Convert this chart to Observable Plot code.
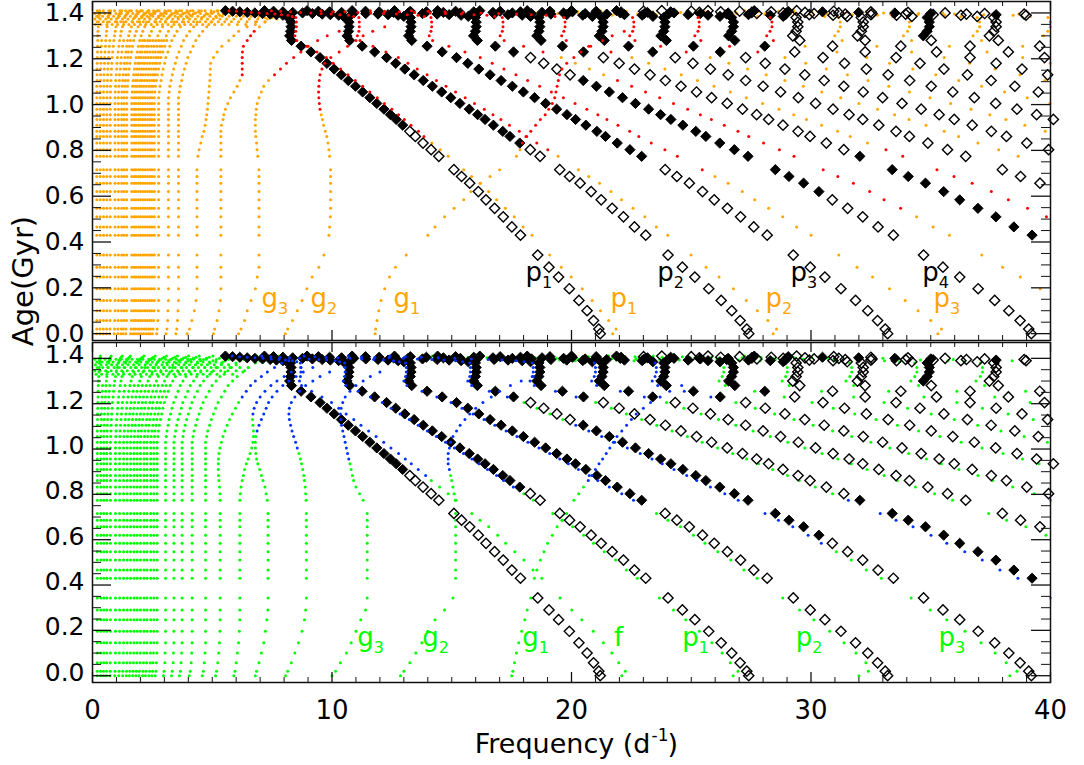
<!DOCTYPE html>
<html><head><meta charset="utf-8">
<script src="https://cdn.jsdelivr.net/npm/d3@7"></script>
<script src="https://cdn.jsdelivr.net/npm/@observablehq/plot@0.6"></script>
<style>
body{margin:0;background:#fff;}
#wrap{position:relative;width:1084px;height:765px;overflow:hidden;}
#wrap svg{display:block;}
#ytitle{position:absolute;left:23px;top:281px;transform:translate(-50%,-50%) rotate(-90deg);font-family:"DejaVu Sans";font-size:29px;white-space:nowrap;color:#000;z-index:5;}
</style></head>
<body><div id="wrap"><div id="ytitle">Age(Gyr)</div></div>
<script>
// ---------- model ages (Gyr), shared by every track ----------
const ages = [0,0.02,0.057,0.1,0.145,0.196,0.247,0.29,0.343,0.43,0.466,0.51,0.547,0.584,0.62,0.657,0.686,0.716,0.774,0.803,0.832,0.861,0.883,0.91,0.935,0.956,0.98,1.005,1.03,1.055,1.08,1.105,1.13,1.155,1.18,1.205,1.23,1.255,1.28,1.3,1.32,1.34,1.36,1.38,1.39,1.395,1.4,1.405,1.41];
// extra finely sampled models in the post-main-sequence band
const tailAges = [1.385,1.3925,1.3975,1.4025,1.4075];

// ---------- radial modes (l=0), black diamonds, both panels ----------
const l0n1 = [21.2,21.14,20.92,20.65,20.31,19.91,19.46,19.06,18.59,17.87,17.51,17.15,16.79,16.43,16.11,15.75,15.41,15.09,14.46,14.14,13.8,13.48,13.25,12.95,12.68,12.44,12.17,11.87,11.58,11.28,10.98,10.68,10.39,10.09,9.79,9.5,9.12,8.71,8.31,8.23,8.27,8.29,8.29,8.27,7.95,7.42,6.78,6.15,5.55];
const l0n2 = [27.4,27.32,27.04,26.69,26.25,25.73,25.15,24.63,24.03,23.1,22.63,22.17,21.7,21.24,20.82,20.36,19.92,19.51,18.69,18.28,17.84,17.43,17.13,16.74,16.39,16.08,15.73,15.34,14.96,14.58,14.19,13.81,13.43,13.04,12.66,12.28,11.78,11.26,10.74,10.63,10.69,10.71,10.71,10.69,10.28,9.59,8.77,7.95,7.18];
const l0n3 = [33.2,33.1,32.78,32.37,31.86,31.25,30.58,29.97,29.26,28.17,27.61,27.06,26.51,25.96,25.47,24.92,24.4,23.91,22.93,22.44,21.91,21.42,21.06,20.6,20.17,19.81,19.38,18.92,18.46,17.99,17.53,17.06,16.6,16.13,15.67,15.2,14.6,13.97,13.33,13.2,13.27,13.3,13.3,13.27,12.76,11.92,10.91,9.9,8.96];
const l0n4 = [39.2,39.09,38.73,38.26,37.67,36.98,36.21,35.51,34.7,33.44,32.8,32.16,31.53,30.89,30.33,29.69,29.08,28.51,27.37,26.8,26.19,25.61,25.19,24.65,24.15,23.72,23.22,22.67,22.13,21.58,21.04,20.49,19.94,19.39,18.84,18.29,17.58,16.82,16.07,15.91,15.99,16.02,16.02,15.99,15.39,14.39,13.18,11.97,10.84];
const l0n5 = [39.23,38.47,37.72,36.97,36.21,35.54,34.78,34.06,33.39,32.04,31.37,30.64,29.96,29.46,28.83,28.23,27.73,27.14,26.5,25.85,25.22,24.57,23.92,23.28,22.63,21.99,21.33,20.5,19.62,18.73,18.55,18.64,18.68,18.68,18.64,17.94,16.77,15.36,13.94,12.61];
const l0n6 = [39.56,38.75,37.99,36.46,35.7,34.88,34.11,33.55,32.83,32.16,31.59,30.92,30.19,29.47,28.73,28.0,27.27,26.54,25.8,25.07,24.33,23.39,22.38,21.37,21.16,21.27,21.32,21.32,21.27,20.47,19.14,17.53,15.92,14.41];
const l0n7 = [39.92,39.01,38.16,37.53,36.73,35.98,35.35,34.6,33.8,32.99,32.18,31.37,30.55,29.74,28.91,28.09,27.27,26.21,25.09,23.96,23.73,23.85,23.9,23.9,23.85,22.95,21.47,19.67,17.87,16.17];
const l0n8 = [40.12,39.42,38.6,37.71,36.82,35.92,35.02,34.12,33.22,32.31,31.4,30.5,29.32,28.07,26.82,26.56,26.69,26.76,26.76,26.69,25.7,24.05,22.04,20.04,18.15];
const l0n9 = [39.49,38.51,37.52,36.53,35.55,34.55,33.55,32.26,30.9,29.53,29.24,29.38,29.45,29.45,29.38,28.3,26.48,24.28,22.07,20.0];
const l0n10 = [39.88,38.81,37.73,36.64,35.24,33.75,32.26,31.94,32.1,32.18,32.18,32.1,30.92,28.94,26.54,24.14,21.88];
const l0n11 = [39.75,38.24,36.64,35.02,34.69,34.85,34.94,34.94,34.85,33.57,31.43,28.84,26.23,23.77];
const l0n12 = [39.55,37.82,37.45,37.63,37.73,37.73,37.63,36.26,33.95,31.16,28.34,25.7];
const l0n13 = [38.98,36.49,33.5,30.48,27.63];
const l0n14 = [38.9,35.6,32.5,29.4];
const radialStart = [0,0,0,0,9,15,19,24,29,32,35,37,44,45];
const radialUnstable = [[[23,48]],[[20,48]],[[18,48]],[[14,31],[36,48]],[[9,18],[36,48]],[[36,48]],[[36,48]],[[37,48]],[[44,48]],[[46,48]],[[39,43]],[],[[46,48]],[]];
// radial modes at the extra band models (tailAges)
const l0t1 = [8.12,7.68,7.1,6.46,5.85];
const l0t2 = [10.48,9.93,9.18,8.36,7.56];
const l0t3 = [13.0,12.34,11.41,10.4,9.43];
const l0t4 = [15.69,14.89,13.78,12.57,11.4];
const l0t5 = [18.29,17.35,16.06,14.65,13.27];
const l0t6 = [20.87,19.8,18.33,16.72,15.16];
const l0t7 = [23.4,22.21,20.57,18.77,17.02];
const l0t8 = [26.2,24.87,23.04,21.04,19.1];
const l0t9 = [28.84,27.39,25.38,23.17,21.03];
const l0t10 = [31.51,29.93,27.74,25.34,23.01];
const l0t11 = [34.21,32.5,30.13,27.53,25.0];
const l0t12 = [36.94,35.1,32.55,29.75,27.02];
const l0t13 = [null,37.73,35.0,31.99,29.05];
const l0t14 = [null,null,37.25,34.05,30.95];
const l0tUnstable = [true,true,true,true,true,true,true,true,true,false,false,false,true,false];

// ---------- top panel: l=1 modes (orange = stable, red = unstable) ----------
const l1p1 = [21.72,21.86,21.55,21.21,20.86,20.45,19.99,19.57,19.09,18.35,17.98,17.61,17.24,16.87,16.54,16.18,15.83,15.5,14.85,14.52,14.17,13.84,13.61,13.3,13.02,12.78,12.5,12.19,11.89,11.58,11.28,10.97,10.67,10.36,10.05,9.76,9.37,8.95,8.53,8.45,8.49,8.51,8.51,8.49,8.16,7.62,6.96,6.32,5.7];
const l1p2 = [28.42,28.56,28.2,27.76,27.3,26.76,26.16,25.62,24.99,24.02,23.54,23.06,22.57,22.09,21.65,21.17,20.72,20.29,19.44,19.01,18.55,18.13,17.82,17.41,17.05,16.72,16.36,15.95,15.56,15.16,14.76,14.36,13.97,13.56,13.17,12.77,12.25,11.71,11.17,11.06,11.12,11.14,11.14,11.12,10.69,9.97,9.12,8.27,7.47];
const l1p3 = [35.3,35.45,35.0,34.47,33.93,33.28,32.57,31.92,31.16,30.0,29.4,28.82,28.23,27.65,27.13,26.54,25.99,25.46,24.42,23.9,23.33,22.81,22.43,21.94,21.48,21.1,20.64,20.15,19.66,19.16,18.67,18.17,17.68,17.18,16.69,16.19,15.55,14.88,14.2,14.06,14.13,14.16,14.16,14.13,13.59,12.69,11.62,10.54,9.54];
const l1p4 = [39.57,38.74,38.0,37.13,35.78,35.1,34.41,33.74,33.05,32.45,31.77,31.12,30.51,29.29,28.68,28.02,27.4,26.95,26.38,25.84,25.38,24.85,24.26,23.68,23.09,22.51,21.92,21.34,20.75,20.16,19.57,18.81,18.0,17.19,17.02,17.11,17.14,17.14,17.11,16.47,15.4,14.1,12.81,11.6];
const l1p5 = [39.83,39.04,38.24,37.53,36.73,35.97,35.26,33.83,33.13,32.36,31.64,31.11,30.44,29.81,29.28,28.66,27.98,27.3,26.63,25.95,25.26,24.58,23.9,23.22,22.52,21.65,20.72,19.78,19.59,19.68,19.73,19.73,19.68,18.94,17.71,16.22,14.72,13.32];
const l1p6 = [38.65,37.84,36.97,36.16,35.56,34.8,34.09,33.49,32.78,32.0,31.24,30.45,29.68,28.91,28.13,27.35,26.57,25.79,24.79,23.72,22.65,22.43,22.55,22.6,22.6,22.55,21.7,20.29,18.58,16.88,15.27];
const l1p7 = [39.78,38.93,38.14,37.47,36.68,35.83,34.97,34.11,33.25,32.38,31.52,30.64,29.78,28.91,27.78,26.6,25.4,25.15,25.28,25.33,25.33,25.28,24.33,22.76,20.85,18.94,17.14];
const l1p8 = [39.97,39.03,38.08,37.12,36.17,35.21,34.25,33.28,32.33,31.08,29.75,28.43,28.15,28.29,28.37,28.37,28.29,27.24,25.49,23.36,21.24,19.24];
const l1p9 = [39.77,38.72,37.68,36.62,35.56,34.2,32.75,31.3,30.99,31.14,31.22,31.22,31.14,30.0,28.07,25.74,23.39,21.2];
const l1p10 = [39.99,38.84,37.35,35.78,34.2,33.86,34.03,34.11,34.11,34.03,32.78,30.68,28.13,25.59,23.19];
const l1p11 = [38.84,37.12,36.77,36.94,37.04,37.04,36.94,35.58,33.32,30.57,27.8,25.2];
const l1p12 = [39.7,39.89,39.99,39.99,39.89,38.44,35.99,33.03,30.04,27.24];
const l1p13 = [38.68,35.51,32.31,29.29];
const l1g1 = [11.8,11.82,11.88,11.95,12.05,12.2,12.4,12.65,13.1,14.0,14.3,14.7,15.1,15.5,15.8,16.2,16.6,17.0,17.7,17.85,17.95,18.1,18.3,18.5,18.7,18.9,19.05,19.2,19.3,19.35,19.4,19.45,19.5,19.6,19.8,20.1,20.4,20.8,21.3,21.7,22.2];
const l1g2 = [8.05,8.15,8.35,8.55,8.75,8.95,9.17,9.45,9.66,9.87,9.9,9.93,9.94,9.94,9.94,9.94,9.94,9.94,9.9,9.87,9.83,9.78,9.72,9.65,9.6,9.55,9.5,9.47,9.45,9.44,9.45,9.47,9.5,9.58,9.7,9.95,10.3,10.65,11.0,11.3,11.7,12.2];
const l1g3 = [6.1,6.2,6.35,6.46,6.62,6.8,6.88,6.95,6.95,6.95,6.95,6.95,6.95,6.95,6.95,6.95,6.95,6.95,6.9,6.87,6.85,6.82,6.8,6.8,6.8,6.82,6.84,6.88,6.95,7.05,7.15,7.35,7.6,7.85,8.1,8.4,8.7,9.0,9.4,9.8,10.3];
const l1g4 = [5.05,5.1,5.2,5.28,5.34,5.36,5.36,5.36,5.36,5.36,5.36,5.36,5.36,5.36,5.36,5.36,5.36,5.36,5.36,5.36,5.36,5.36,5.36,5.38,5.45,5.48,5.55,5.65,5.76,5.9,6.04,6.15,6.25,6.25,6.25,6.25,6.26,6.3,6.46,6.6,6.75,6.97,7.2,7.5,7.7,7.9,8.1];
const l1g5 = [3.95,4.05,4.15,4.25,4.32,4.36,4.36,4.36,4.36,4.36,4.36,4.36,4.36,4.36,4.36,4.36,4.36,4.36,4.4,4.45,4.52,4.58,4.65,4.7,4.74,4.77,4.8,4.82,4.84,4.86,4.88,4.9,4.91,4.92,4.93,5.05,5.2,5.4,5.69,5.9,6.1,6.45,6.8,7.2,7.5,7.8];
const l1Start = [0,0,0,5,11,18,22,27,31,34,37,39,45, 0,0,0,0,0];
const l1Unstable = [[[21,48]],[[19,48]],[[17,48]],[[12,31],[36,48]],[[11,19],[36,48]],[[36,43]],[[36,43]],[[38,43]],[],[],[],[],[], [[20,40]],[[26,41]],[[32,40]],[[32,40]],[]];
const l1t1 = [8.34,7.89,7.29,6.63,6.01];
const l1t2 = [10.9,10.33,9.55,8.69,7.86];
const l1t3 = [13.85,13.14,12.15,11.08,10.04];
const l1t4 = [16.79,15.93,14.74,13.45,12.2];
const l1t5 = [19.31,18.32,16.96,15.47,14.01];
const l1t6 = [22.12,20.99,19.43,17.72,16.07];
const l1t7 = [24.8,23.54,21.8,19.9,18.04];
const l1t8 = [27.77,26.36,24.42,22.3,20.25];
const l1t9 = [30.57,29.03,26.9,24.56,22.29];
const l1t10 = [33.4,31.73,29.4,26.86,24.39];
const l1t11 = [36.26,34.45,31.94,29.18,26.5];
const l1t12 = [39.16,37.21,34.5,31.54,28.64];
const l1tUnstable = [true,true,true,true,true,false,false,false,false,false,false,false];
// dense low-order g modes, top panel
const l1lo1 = [3.48,3.52,3.55,3.57,3.59,3.59,3.59,3.59,3.59,3.59,3.59,3.59,3.59,3.59,3.59,3.59,3.59,3.59,3.59,3.59,3.59,3.59,3.59,3.59,3.59,3.59,3.59,3.59,3.59,3.63,3.66,3.72,3.77,3.84,3.91,3.98,4.09,4.2,4.31,4.45,4.6,4.77,4.95,5.17,5.31,5.46,5.6,5.74,5.92];
const l1lo2 = [3.07,3.11,3.14,3.15,3.17,3.17,3.17,3.17,3.17,3.17,3.17,3.17,3.17,3.17,3.17,3.17,3.17,3.17,3.17,3.17,3.17,3.17,3.17,3.17,3.17,3.17,3.17,3.17,3.17,3.2,3.23,3.28,3.33,3.39,3.46,3.52,3.61,3.71,3.8,3.93,4.06,4.22,4.37,4.56,4.69,4.82,4.95,5.07,5.23];
const l1lo3 = [2.68,2.7,2.73,2.75,2.76,2.76,2.76,2.76,2.76,2.76,2.76,2.76,2.76,2.76,2.76,2.76,2.76,2.76,2.76,2.76,2.76,2.76,2.76,2.76,2.76,2.76,2.76,2.76,2.76,2.79,2.82,2.86,2.9,2.95,3.01,3.06,3.15,3.23,3.31,3.42,3.53,3.67,3.81,3.97,4.08,4.2,4.31,4.42,4.55];
const l1lo4 = [2.41,2.43,2.46,2.47,2.48,2.48,2.48,2.48,2.48,2.48,2.48,2.48,2.48,2.48,2.48,2.48,2.48,2.48,2.48,2.48,2.48,2.48,2.48,2.48,2.48,2.48,2.48,2.48,2.48,2.5,2.53,2.57,2.6,2.65,2.7,2.75,2.83,2.9,2.98,3.08,3.17,3.3,3.42,3.57,3.67,3.77,3.87,3.97,4.09];
const l1lo5 = [2.13,2.16,2.18,2.19,2.2,2.2,2.2,2.2,2.2,2.2,2.2,2.2,2.2,2.2,2.2,2.2,2.2,2.2,2.2,2.2,2.2,2.2,2.2,2.2,2.2,2.2,2.2,2.2,2.2,2.22,2.24,2.28,2.31,2.35,2.4,2.44,2.51,2.57,2.64,2.73,2.82,2.93,3.04,3.17,3.26,3.34,3.43,3.52,3.63];
const l1lo6 = [1.86,1.88,1.9,1.91,1.92,1.92,1.92,1.92,1.92,1.92,1.92,1.92,1.92,1.92,1.92,1.92,1.92,1.92,1.92,1.92,1.92,1.92,1.92,1.92,1.92,1.92,1.92,1.92,1.92,1.94,1.96,1.99,2.02,2.05,2.09,2.13,2.19,2.25,2.3,2.38,2.46,2.55,2.65,2.76,2.84,2.92,3.0,3.07,3.17];
const l1lo7 = [1.59,1.61,1.62,1.63,1.64,1.64,1.64,1.64,1.64,1.64,1.64,1.64,1.64,1.64,1.64,1.64,1.64,1.64,1.64,1.64,1.64,1.64,1.64,1.64,1.64,1.64,1.64,1.64,1.64,1.66,1.67,1.7,1.72,1.75,1.79,1.82,1.87,1.92,1.97,2.03,2.1,2.18,2.26,2.36,2.43,2.49,2.56,2.62,2.71];
const l1lo8 = [1.39,1.4,1.42,1.42,1.43,1.43,1.43,1.43,1.43,1.43,1.43,1.43,1.43,1.43,1.43,1.43,1.43,1.43,1.43,1.43,1.43,1.43,1.43,1.43,1.43,1.43,1.43,1.43,1.43,1.44,1.46,1.48,1.5,1.53,1.56,1.59,1.63,1.67,1.72,1.77,1.83,1.9,1.97,2.06,2.12,2.17,2.23,2.29,2.36];
const l1lo9 = [1.18,1.2,1.21,1.21,1.22,1.22,1.22,1.22,1.22,1.22,1.22,1.22,1.22,1.22,1.22,1.22,1.22,1.22,1.22,1.22,1.22,1.22,1.22,1.22,1.22,1.22,1.22,1.22,1.22,1.23,1.24,1.26,1.28,1.31,1.33,1.35,1.39,1.43,1.46,1.51,1.56,1.62,1.68,1.76,1.81,1.85,1.9,1.95,2.01];
const l1lo10 = [0.91,0.92,0.93,0.94,0.94,0.94,0.94,0.94,0.94,0.94,0.94,0.94,0.94,0.94,0.94,0.94,0.94,0.94,0.94,0.94,0.94,0.94,0.94,0.94,0.94,0.94,0.94,0.94,0.94,0.95,0.96,0.97,0.99,1.01,1.02,1.04,1.07,1.1,1.13,1.17,1.2,1.25,1.3,1.35,1.39,1.43,1.47,1.5,1.55];
const l1lo11 = [0.72,0.73,0.73,0.74,0.74,0.74,0.74,0.74,0.74,0.74,0.74,0.74,0.74,0.74,0.74,0.74,0.74,0.74,0.74,0.74,0.74,0.74,0.74,0.74,0.74,0.74,0.74,0.74,0.74,0.75,0.75,0.77,0.78,0.79,0.81,0.82,0.84,0.87,0.89,0.92,0.95,0.98,1.02,1.07,1.1,1.12,1.15,1.18,1.22];
const l1lo12 = [0.45,0.45,0.46,0.46,0.46,0.46,0.46,0.46,0.46,0.46,0.46,0.46,0.46,0.46,0.46,0.46,0.46,0.46,0.46,0.46,0.46,0.46,0.46,0.46,0.46,0.46,0.46,0.46,0.46,0.46,0.47,0.48,0.48,0.49,0.5,0.51,0.52,0.54,0.55,0.57,0.59,0.61,0.63,0.66,0.68,0.7,0.72,0.74,0.76];
const l1lo13 = [0.17,0.18,0.18,0.18,0.18,0.18,0.18,0.18,0.18,0.18,0.18,0.18,0.18,0.18,0.18,0.18,0.18,0.18,0.18,0.18,0.18,0.18,0.18,0.18,0.18,0.18,0.18,0.18,0.18,0.18,0.18,0.19,0.19,0.19,0.2,0.2,0.21,0.21,0.22,0.22,0.23,0.24,0.25,0.26,0.27,0.27,0.28,0.29,0.3];
const l1lo14 = [2.5,2.53,2.55,2.57,2.58,2.58,2.58,2.58,2.58,2.58,2.58,2.58,2.58,2.58,2.58,2.58,2.58,2.58,2.58,2.58,2.58,2.58,2.58,2.58,2.58,2.58,2.58,2.58,2.58,2.61,2.63,2.67,2.71,2.76,2.81,2.86,2.94,3.02,3.1];
const l1lo15 = [2.33,2.35,2.38,2.39,2.4,2.4,2.4,2.4,2.4,2.4,2.4,2.4,2.4,2.4,2.4,2.4,2.4,2.4,2.4,2.4,2.4,2.4,2.4,2.4,2.4,2.4,2.4,2.4,2.4,2.42,2.45,2.48,2.52,2.57,2.62,2.66,2.74,2.81,2.88];
const l1lo16 = [2.23,2.25,2.28,2.29,2.3,2.3,2.3,2.3,2.3,2.3,2.3,2.3,2.3,2.3,2.3,2.3,2.3,2.3,2.3,2.3,2.3,2.3,2.3,2.3,2.3,2.3,2.3,2.3,2.3,2.32,2.35,2.38,2.42,2.46,2.51,2.55,2.62,2.69,2.76];
const l1lo17 = [2.04,2.06,2.08,2.09,2.1,2.1,2.1,2.1,2.1,2.1,2.1,2.1,2.1,2.1,2.1,2.1,2.1,2.1,2.1,2.1,2.1,2.1,2.1,2.1,2.1,2.1,2.1,2.1,2.1,2.12,2.14,2.17,2.21,2.25,2.29,2.33,2.39,2.46,2.52];
const l1lo18 = [1.94,1.96,1.98,1.99,2.0,2.0,2.0,2.0,2.0,2.0,2.0,2.0,2.0,2.0,2.0,2.0,2.0,2.0,2.0,2.0,2.0,2.0,2.0,2.0,2.0,2.0,2.0,2.0,2.0,2.02,2.04,2.07,2.1,2.14,2.18,2.22,2.28,2.34,2.4];
const l1lo19 = [1.77,1.78,1.8,1.81,1.82,1.82,1.82,1.82,1.82,1.82,1.82,1.82,1.82,1.82,1.82,1.82,1.82,1.82,1.82,1.82,1.82,1.82,1.82,1.82,1.82,1.82,1.82,1.82,1.82,1.84,1.86,1.88,1.91,1.95,1.98,2.02,2.07,2.13,2.18];
const l1lo20 = [1.69,1.71,1.72,1.73,1.74,1.74,1.74,1.74,1.74,1.74,1.74,1.74,1.74,1.74,1.74,1.74,1.74,1.74,1.74,1.74,1.74,1.74,1.74,1.74,1.74,1.74,1.74,1.74,1.74,1.76,1.77,1.8,1.83,1.86,1.9,1.93,1.98,2.04,2.09];
const l1lo21 = [1.28,1.29,1.31,1.31,1.32,1.32,1.32,1.32,1.32,1.32,1.32,1.32,1.32,1.32,1.32,1.32,1.32,1.32,1.32,1.32,1.32,1.32,1.32,1.32,1.32,1.32,1.32,1.32,1.32,1.33,1.35,1.37,1.39,1.41,1.44,1.47,1.5,1.54,1.58];
const l1lo22 = [1.05,1.06,1.07,1.07,1.08,1.08,1.08,1.08,1.08,1.08,1.08,1.08,1.08,1.08,1.08,1.08,1.08,1.08,1.08,1.08,1.08,1.08,1.08,1.08,1.08,1.08,1.08,1.08,1.08,1.09,1.1,1.12,1.13,1.16,1.18,1.2,1.23,1.26,1.3];
const l1lo23 = [0.58,0.59,0.59,0.6,0.6,0.6,0.6,0.6,0.6,0.6,0.6,0.6,0.6,0.6,0.6,0.6,0.6,0.6,0.6,0.6,0.6,0.6,0.6,0.6,0.6,0.6,0.6,0.6,0.6,0.61,0.61,0.62,0.63,0.64,0.65,0.67,0.68,0.7,0.72];
const l1lo24 = [0.31,0.31,0.32,0.32,0.32,0.32,0.32,0.32,0.32,0.32,0.32,0.32,0.32,0.32,0.32,0.32,0.32,0.32,0.32,0.32,0.32,0.32,0.32,0.32,0.32,0.32,0.32,0.32,0.32,0.32,0.33,0.33,0.34,0.34,0.35,0.36,0.36,0.37,0.38];
// crowded g-mode band near the end of the main sequence, top panel
const bandTopAges = [1.35,1.362,1.374,1.386,1.398,1.41];
const bandTop1 = [0.12,0.35,0.6,0.82,1.05,1.3,1.52,1.75,2.0,2.22,2.45,2.7,2.92,3.15,3.4,3.62,3.85,4.1,4.35,4.6,4.85,5.1,5.4,5.7,6.05,6.4,6.8];
const bandTop2 = [0.2,0.45,0.7,0.95,1.18,1.4,1.65,1.88,2.12,2.35,2.6,2.82,3.05,3.3,3.52,3.75,4.0,4.22,4.48,4.72,4.98,5.25,5.52,5.8,6.1,6.45,6.85,7.2];
const bandTop3 = [0.1,0.32,0.55,0.78,1.0,1.25,1.48,1.7,1.95,2.18,2.4,2.65,2.88,3.1,3.35,3.58,3.8,4.05,4.3,4.55,4.8,5.05,5.32,5.6,5.9,6.2,6.55,6.9,7.3,7.7];
const bandTop4 = [0.18,0.42,0.65,0.88,1.12,1.35,1.58,1.82,2.05,2.28,2.52,2.75,2.98,3.22,3.45,3.7,3.92,4.15,4.4,4.65,4.9,5.15,5.42,5.7,6.0,6.3,6.62,6.95,7.35,7.8];
const bandTop5 = [0.1,0.3,0.52,0.75,0.98,1.2,1.45,1.68,1.9,2.15,2.38,2.6,2.85,3.08,3.3,3.55,3.78,4.02,4.25,4.5,4.75,5.0,5.25,5.5,5.8,6.1,6.4,6.7,7.05,7.4];
const bandTop6 = [0.2,0.45,0.68,0.92,1.15,1.38,1.62,1.85,2.08,2.32,2.55,2.78,3.02,3.25,3.48,3.72,3.95,4.2,4.45,4.7,4.95,5.2,5.45,5.75,6.05,6.35];

// ---------- bottom panel: l=2 modes (green = stable, blue = unstable) ----------
const l2f = [22.1,22.25,21.97,21.68,21.33,20.91,20.43,20.01,19.52,18.76,18.39,18.01,17.63,17.25,16.92,16.54,16.18,15.84,15.18,14.85,14.49,14.15,13.91,13.6,13.31,13.06,12.78,12.46,12.16,11.84,11.53,11.21,10.91,10.59,10.28,9.98,9.58,9.15,8.73,8.64,8.68,8.7,8.7,8.68,8.35,7.79,7.12,6.46,5.83];
const l2p1 = [26.75,26.95,26.63,26.29,25.86,25.34,24.77,24.26,23.67,22.75,22.29,21.84,21.37,20.92,20.51,20.05,19.62,19.22,18.41,18.01,17.57,17.17,16.87,16.49,16.14,15.84,15.49,15.11,14.74,14.36,13.98,13.6,13.23,12.84,12.47,12.1,11.6,11.09,10.58,10.47,10.53,10.55,10.55,10.53,10.13,9.45,8.64,7.83,7.07];
const l2p2 = [32.0,32.4,32.29,31.88,31.38,30.78,30.12,29.52,28.82,27.75,27.2,26.65,26.11,25.57,25.09,24.55,24.03,23.55,22.59,22.1,21.58,21.1,20.74,20.29,19.87,19.51,19.09,18.64,18.18,17.72,17.27,16.8,16.35,15.89,15.43,14.97,14.38,13.76,13.13,13.0,13.07,13.1,13.1,13.07,12.57,11.74,10.75,9.75,8.83];
const l2p3 = [38.3,38.6,38.15,37.69,37.1,36.43,35.67,34.98,34.18,32.94,32.31,31.68,31.06,30.43,29.88,29.24,28.64,28.08,26.96,26.4,25.8,25.23,24.81,24.28,23.79,23.36,22.87,22.33,21.8,21.26,20.72,20.18,19.64,19.1,18.56,18.02,17.32,16.57,15.83,15.67,15.75,15.78,15.78,15.75,15.16,14.17,12.98,11.79,10.68];
const l2p4 = [40.0,38.64,37.89,37.15,36.42,35.67,35.01,34.26,33.55,32.89,31.56,30.9,30.18,29.51,29.02,28.4,27.81,27.31,26.73,26.1,25.46,24.84,24.2,23.56,22.93,22.29,21.66,21.01,20.19,19.33,18.45,18.27,18.36,18.4,18.4,18.36,17.67,16.52,15.13,13.73,12.42];
const l2p5 = [39.81,38.97,38.17,37.42,35.91,35.16,34.36,33.6,33.05,32.34,31.68,31.12,30.46,29.74,29.03,28.3,27.58,26.86,26.14,25.41,24.69,23.97,23.04,22.04,21.05,20.84,20.95,21.0,21.0,20.95,20.16,18.85,17.27,15.68,14.19];
const l2p6 = [40.0,39.32,38.42,37.59,36.97,36.18,35.44,34.82,34.08,33.29,32.5,31.7,30.9,30.09,29.29,28.48,27.67,26.86,25.82,24.71,23.6,23.37,23.49,23.54,23.54,23.49,22.61,21.15,19.37,17.6,15.93];
const l2p7 = [39.52,38.83,38.02,37.14,36.27,35.38,34.49,33.61,32.72,31.83,30.93,30.04,28.88,27.65,26.42,26.16,26.29,26.36,26.36,26.29,25.31,23.69,21.71,19.74,17.88];
const l2p8 = [39.87,38.9,37.93,36.96,35.98,35.02,34.03,33.05,31.78,30.44,29.09,28.8,28.94,29.01,29.01,28.94,27.88,26.08,23.92,21.74,19.7];
const l2p9 = [39.28,38.23,37.16,36.09,34.71,33.24,31.78,31.46,31.62,31.7,31.7,31.62,30.46,28.51,26.14,23.78,21.55];
const l2p10 = [39.15,37.67,36.09,34.49,34.17,34.33,34.42,34.42,34.33,33.07,30.96,28.41,25.84,23.41];
const l2p11 = [38.96,37.25,36.89,37.07,37.16,37.16,37.07,35.72,33.44,30.69,27.91,25.31];
const l2p12 = [38.4,35.94,33.0,30.02,27.22];
const l2g1 = [17.5,17.55,17.62,17.7,17.8,17.92,18.05,18.15,18.3,18.45,18.55,18.7,18.85,19.0,19.2,19.4,19.6,19.8,20.1,20.3,20.5,20.7,20.85,21.0,21.15,21.3,21.45,21.6,21.75,21.9,22.1,22.3,22.5,22.7,23.0,23.3,23.7,24.1,24.6];
const l2g2 = [12.86,13.0,13.25,13.5,13.75,14.0,14.3,14.7,15.05,15.16,15.16,15.16,15.16,15.16,15.16,15.16,15.16,15.16,15.15,15.1,15.05,15.0,14.95,14.9,14.85,14.85,14.85,14.9,14.95,15.05,15.2,15.35,15.55,15.75,16.0,16.3,16.65,17.0,17.45,17.9,18.4];
const l2g3 = [10.0,10.15,10.35,10.6,10.8,11.0,11.2,11.4,11.47,11.47,11.47,11.47,11.47,11.47,11.47,11.47,11.47,11.47,11.3,11.15,11.0,10.9,10.85,10.8,10.75,10.7,10.65,10.6,10.55,10.5,10.45,10.4,10.37,10.35,10.38,10.45,10.55,10.75,11.0,11.3,11.6,12.0];
const l2g4 = [8.06,8.15,8.3,8.45,8.6,8.75,8.85,8.9,8.93,8.93,8.93,8.93,8.93,8.93,8.93,8.93,8.93,8.93,8.92,8.9,8.88,8.85,8.82,8.78,8.73,8.68,8.62,8.55,8.48,8.4,8.33,8.27,8.22,8.2,8.22,8.3,8.45,8.65,8.9,9.2,9.5,9.9];
const l2g5 = [6.8,6.85,6.95,7.05,7.15,7.22,7.28,7.32,7.33,7.33,7.33,7.33,7.33,7.33,7.33,7.33,7.33,7.33,7.3,7.25,7.2,7.12,7.05,6.98,6.9,6.85,6.82,6.8,6.8,6.82,6.87,6.95,7.05,7.15,7.25,7.35,7.5,7.7,7.95,8.2,8.5,8.8,9.2];
const l2g6 = [5.9,5.95,6.0,6.05,6.1,6.13,6.15,6.15,6.15,6.15,6.15,6.15,6.15,6.15,6.15,6.15,6.15,6.15,6.15,6.17,6.2,6.25,6.3,6.35,6.42,6.5,6.58,6.65,6.7,6.72,6.72,6.7,6.68,6.7,6.75,6.85,7.0,7.2,7.45,7.7,8.0,8.3,8.7];
const l2g7 = [5.14,5.18,5.23,5.27,5.3,5.32,5.33,5.33,5.33,5.33,5.33,5.33,5.33,5.33,5.33,5.33,5.33,5.33,5.33,5.32,5.3,5.28,5.26,5.25,5.25,5.26,5.28,5.32,5.38,5.45,5.53,5.62,5.72,5.84,5.97,6.1,6.25,6.42,6.6,6.8,7.05,7.3,7.6,7.9,8.2];
const l2Start = [0,0,0,0,8,14,18,24,28,32,35,37,44, 0,0,0,0,0,0,0];
const l2Unstable = [[[22,48]],[[20,48]],[[18,48]],[[13,31],[36,48]],[[9,18],[36,48]],[[36,43]],[[36,43]],[],[],[],[],[],[], [[21,38]],[[23,40]],[[25,41]],[[27,41]],[[30,42]],[[33,42]],[[36,44]]];
const l2t1 = [8.53,8.06,7.46,6.78,6.14];
const l2t2 = [10.32,9.78,9.04,8.23,7.45];
const l2t3 = [12.81,12.15,11.24,10.24,9.29];
const l2t4 = [15.45,14.67,13.57,12.38,11.23];
const l2t5 = [18.02,17.09,15.82,14.43,13.07];
const l2t6 = [20.56,19.5,18.06,16.47,14.93];
const l2t7 = [23.05,21.88,20.26,18.49,16.76];
const l2t8 = [25.81,24.5,22.69,20.72,18.81];
const l2t9 = [28.41,26.98,25.0,22.82,20.71];
const l2t10 = [31.04,29.48,27.32,24.96,22.66];
const l2t11 = [33.7,32.01,29.68,27.12,24.63];
const l2t12 = [36.39,34.57,32.06,29.3,26.61];
const l2tUnstable = [true,true,true,true,true,false,false,false,false,false,false,false];
// dense low-order g modes, bottom panel
const l2lo1 = [4.58,4.63,4.67,4.7,4.72,4.72,4.72,4.72,4.72,4.72,4.72,4.72,4.72,4.72,4.72,4.72,4.72,4.72,4.72,4.72,4.72,4.72,4.72,4.72,4.72,4.72,4.72,4.72,4.72,4.77,4.81,4.89,4.96,5.05,5.14,5.24,5.38,5.52,5.66,5.85,6.04,6.28,6.51,6.8,6.99,7.17,7.36,7.55,7.79];
const l2lo2 = [4.04,4.08,4.12,4.14,4.16,4.16,4.16,4.16,4.16,4.16,4.16,4.16,4.16,4.16,4.16,4.16,4.16,4.16,4.16,4.16,4.16,4.16,4.16,4.16,4.16,4.16,4.16,4.16,4.16,4.2,4.24,4.31,4.37,4.45,4.53,4.62,4.74,4.87,4.99,5.16,5.32,5.53,5.74,5.99,6.16,6.32,6.49,6.66,6.86];
const l2lo3 = [3.63,3.67,3.7,3.72,3.74,3.74,3.74,3.74,3.74,3.74,3.74,3.74,3.74,3.74,3.74,3.74,3.74,3.74,3.74,3.74,3.74,3.74,3.74,3.74,3.74,3.74,3.74,3.74,3.74,3.78,3.81,3.87,3.93,4.0,4.08,4.15,4.26,4.38,4.49,4.64,4.79,4.97,5.16,5.39,5.54,5.68,5.83,5.98,6.17];
const l2lo4 = [3.3,3.33,3.37,3.38,3.4,3.4,3.4,3.4,3.4,3.4,3.4,3.4,3.4,3.4,3.4,3.4,3.4,3.4,3.4,3.4,3.4,3.4,3.4,3.4,3.4,3.4,3.4,3.4,3.4,3.43,3.47,3.52,3.57,3.64,3.71,3.77,3.88,3.98,4.08,4.22,4.35,4.52,4.69,4.9,5.03,5.17,5.3,5.44,5.61];
const l2lo5 = [2.96,2.99,3.02,3.03,3.05,3.05,3.05,3.05,3.05,3.05,3.05,3.05,3.05,3.05,3.05,3.05,3.05,3.05,3.05,3.05,3.05,3.05,3.05,3.05,3.05,3.05,3.05,3.05,3.05,3.08,3.11,3.16,3.2,3.26,3.32,3.39,3.48,3.57,3.66,3.78,3.9,4.06,4.21,4.39,4.51,4.64,4.76,4.88,5.03];
const l2lo6 = [2.62,2.65,2.67,2.69,2.7,2.7,2.7,2.7,2.7,2.7,2.7,2.7,2.7,2.7,2.7,2.7,2.7,2.7,2.7,2.7,2.7,2.7,2.7,2.7,2.7,2.7,2.7,2.7,2.7,2.73,2.75,2.79,2.84,2.89,2.94,3.0,3.08,3.16,3.24,3.35,3.46,3.59,3.73,3.89,4.0,4.1,4.21,4.32,4.46];
const l2lo7 = [2.36,2.38,2.41,2.42,2.43,2.43,2.43,2.43,2.43,2.43,2.43,2.43,2.43,2.43,2.43,2.43,2.43,2.43,2.43,2.43,2.43,2.43,2.43,2.43,2.43,2.43,2.43,2.43,2.43,2.45,2.48,2.52,2.55,2.6,2.65,2.7,2.77,2.84,2.92,3.01,3.11,3.23,3.35,3.5,3.6,3.69,3.79,3.89,4.01];
const l2lo8 = [2.09,2.11,2.13,2.14,2.15,2.15,2.15,2.15,2.15,2.15,2.15,2.15,2.15,2.15,2.15,2.15,2.15,2.15,2.15,2.15,2.15,2.15,2.15,2.15,2.15,2.15,2.15,2.15,2.15,2.17,2.19,2.23,2.26,2.3,2.34,2.39,2.45,2.52,2.58,2.67,2.75,2.86,2.97,3.1,3.18,3.27,3.35,3.44,3.55];
const l2lo9 = [1.81,1.83,1.85,1.86,1.87,1.87,1.87,1.87,1.87,1.87,1.87,1.87,1.87,1.87,1.87,1.87,1.87,1.87,1.87,1.87,1.87,1.87,1.87,1.87,1.87,1.87,1.87,1.87,1.87,1.89,1.91,1.94,1.96,2.0,2.04,2.08,2.13,2.19,2.24,2.32,2.39,2.49,2.58,2.69,2.77,2.84,2.92,2.99,3.09];
const l2lo10 = [1.54,1.56,1.57,1.58,1.59,1.59,1.59,1.59,1.59,1.59,1.59,1.59,1.59,1.59,1.59,1.59,1.59,1.59,1.59,1.59,1.59,1.59,1.59,1.59,1.59,1.59,1.59,1.59,1.59,1.61,1.62,1.65,1.67,1.7,1.73,1.76,1.81,1.86,1.91,1.97,2.04,2.11,2.19,2.29,2.35,2.42,2.48,2.54,2.62];
const l2lo11 = [1.26,1.27,1.29,1.29,1.3,1.3,1.3,1.3,1.3,1.3,1.3,1.3,1.3,1.3,1.3,1.3,1.3,1.3,1.3,1.3,1.3,1.3,1.3,1.3,1.3,1.3,1.3,1.3,1.3,1.31,1.33,1.35,1.37,1.39,1.42,1.44,1.48,1.52,1.56,1.61,1.66,1.73,1.79,1.87,1.92,1.98,2.03,2.08,2.15];
const l2lo12 = [0.93,0.94,0.95,0.96,0.96,0.96,0.96,0.96,0.96,0.96,0.96,0.96,0.96,0.96,0.96,0.96,0.96,0.96,0.96,0.96,0.96,0.96,0.96,0.96,0.96,0.96,0.96,0.96,0.96,0.97,0.98,0.99,1.01,1.03,1.05,1.07,1.09,1.12,1.15,1.19,1.23,1.28,1.32,1.38,1.42,1.46,1.5,1.54,1.58];
const l2lo13 = [0.73,0.74,0.74,0.75,0.75,0.75,0.75,0.75,0.75,0.75,0.75,0.75,0.75,0.75,0.75,0.75,0.75,0.75,0.75,0.75,0.75,0.75,0.75,0.75,0.75,0.75,0.75,0.75,0.75,0.76,0.77,0.78,0.79,0.8,0.82,0.83,0.86,0.88,0.9,0.93,0.96,1.0,1.04,1.08,1.11,1.14,1.17,1.2,1.24];
const l2lo14 = [0.46,0.46,0.47,0.47,0.47,0.47,0.47,0.47,0.47,0.47,0.47,0.47,0.47,0.47,0.47,0.47,0.47,0.47,0.47,0.47,0.47,0.47,0.47,0.47,0.47,0.47,0.47,0.47,0.47,0.47,0.48,0.49,0.49,0.5,0.51,0.52,0.54,0.55,0.56,0.58,0.6,0.63,0.65,0.68,0.7,0.71,0.73,0.75,0.78];
const l2lo15 = [0.19,0.2,0.2,0.2,0.2,0.2,0.2,0.2,0.2,0.2,0.2,0.2,0.2,0.2,0.2,0.2,0.2,0.2,0.2,0.2,0.2,0.2,0.2,0.2,0.2,0.2,0.2,0.2,0.2,0.2,0.2,0.21,0.21,0.21,0.22,0.22,0.23,0.23,0.24,0.25,0.26,0.27,0.28,0.29,0.3,0.3,0.31,0.32,0.33];
const l2lo16 = [2.48,2.51,2.53,2.55,2.56,2.56,2.56,2.56,2.56,2.56,2.56,2.56,2.56,2.56,2.56,2.56,2.56,2.56,2.56,2.56,2.56,2.56,2.56,2.56,2.56,2.56,2.56,2.56,2.56,2.59,2.61,2.65,2.69,2.74,2.79,2.84,2.92,3.0,3.07];
const l2lo17 = [2.21,2.23,2.26,2.27,2.28,2.28,2.28,2.28,2.28,2.28,2.28,2.28,2.28,2.28,2.28,2.28,2.28,2.28,2.28,2.28,2.28,2.28,2.28,2.28,2.28,2.28,2.28,2.28,2.28,2.3,2.33,2.36,2.39,2.44,2.49,2.53,2.6,2.67,2.74];
const l2lo18 = [1.94,1.96,1.98,1.99,2.0,2.0,2.0,2.0,2.0,2.0,2.0,2.0,2.0,2.0,2.0,2.0,2.0,2.0,2.0,2.0,2.0,2.0,2.0,2.0,2.0,2.0,2.0,2.0,2.0,2.02,2.04,2.07,2.1,2.14,2.18,2.22,2.28,2.34,2.4];
const l2lo19 = [1.68,1.7,1.71,1.72,1.73,1.73,1.73,1.73,1.73,1.73,1.73,1.73,1.73,1.73,1.73,1.73,1.73,1.73,1.73,1.73,1.73,1.73,1.73,1.73,1.73,1.73,1.73,1.73,1.73,1.75,1.76,1.79,1.82,1.85,1.89,1.92,1.97,2.02,2.08];
const l2lo20 = [1.41,1.42,1.44,1.44,1.45,1.45,1.45,1.45,1.45,1.45,1.45,1.45,1.45,1.45,1.45,1.45,1.45,1.45,1.45,1.45,1.45,1.45,1.45,1.45,1.45,1.45,1.45,1.45,1.45,1.46,1.48,1.5,1.52,1.55,1.58,1.61,1.65,1.7,1.74];
const l2lo21 = [1.1,1.11,1.12,1.12,1.13,1.13,1.13,1.13,1.13,1.13,1.13,1.13,1.13,1.13,1.13,1.13,1.13,1.13,1.13,1.13,1.13,1.13,1.13,1.13,1.13,1.13,1.13,1.13,1.13,1.14,1.15,1.17,1.19,1.21,1.23,1.25,1.29,1.32,1.36];
const l2lo22 = [0.58,0.59,0.59,0.6,0.6,0.6,0.6,0.6,0.6,0.6,0.6,0.6,0.6,0.6,0.6,0.6,0.6,0.6,0.6,0.6,0.6,0.6,0.6,0.6,0.6,0.6,0.6,0.6,0.6,0.61,0.61,0.62,0.63,0.64,0.65,0.67,0.68,0.7,0.72];
const l2lo23 = [0.34,0.34,0.35,0.35,0.35,0.35,0.35,0.35,0.35,0.35,0.35,0.35,0.35,0.35,0.35,0.35,0.35,0.35,0.35,0.35,0.35,0.35,0.35,0.35,0.35,0.35,0.35,0.35,0.35,0.35,0.36,0.36,0.37,0.37,0.38,0.39,0.4,0.41,0.42];
const bandBotAges = [1.33,1.345,1.36,1.372,1.384,1.396];
const bandBot1 = [0.15,0.38,0.6,0.85,1.08,1.3,1.55,1.78,2.0,2.25,2.48,2.7,2.95,3.18,3.4,3.65,3.88,4.12,4.38,4.62,4.9,5.2,5.5,5.85];
const bandBot2 = [0.1,0.32,0.55,0.78,1.0,1.22,1.45,1.68,1.92,2.15,2.38,2.62,2.85,3.08,3.32,3.55,3.78,4.02,4.28,4.52,4.78,5.05,5.35,5.65,6.0,6.35];
const bandBot3 = [0.2,0.42,0.65,0.9,1.12,1.35,1.6,1.82,2.05,2.3,2.52,2.75,3.0,3.22,3.45,3.7,3.92,4.18,4.42,4.68,4.95,5.22,5.5,5.8,6.15,6.5];
const bandBot4 = [0.12,0.35,0.58,0.8,1.02,1.25,1.48,1.72,1.95,2.2,2.42,2.65,2.9,3.12,3.35,3.6,3.82,4.05,4.3,4.55,4.8,5.08,5.38,5.68,6.0];
const bandBot5 = [0.18,0.4,0.62,0.86,1.1,1.32,1.55,1.8,2.02,2.25,2.5,2.72,2.95,3.2,3.42,3.65,3.9,4.12,4.38,4.62,4.88,5.15,5.45];
const bandBot6 = [0.1,0.3,0.52,0.75,0.98,1.2,1.42,1.65,1.88,2.1,2.35,2.58,2.8,3.05,3.28,3.5,3.75,3.98,4.22,4.48,4.75];

// ---------- axes & labels ----------
const xTicks = [0,10,20,30,40];
const xTickLabels = ["0","10","20","30","40"];
const yTicks = [0,0.2,0.4,0.6,0.8,1.0,1.2,1.4];
const yTickLabels = ["0.0","0.2","0.4","0.6","0.8","1.0","1.2","1.4"];
const topLabelsBlack = [{t:"p",s:"1",f:18.08,a:0.228},{t:"p",s:"2",f:23.58,a:0.228},{t:"p",s:"3",f:29.14,a:0.228},{t:"p",s:"4",f:34.64,a:0.228}];
const topLabelsColor = [{t:"g",s:"3",f:7.06,a:0.118},{t:"g",s:"2",f:9.1,a:0.118},{t:"g",s:"1",f:12.57,a:0.118},{t:"p",s:"1",f:21.63,a:0.118},{t:"p",s:"2",f:28.1,a:0.118},{t:"p",s:"3",f:35.11,a:0.118}];
const botLabels = [{t:"g",s:"3",f:11.05,a:0.13},{t:"g",s:"2",f:13.77,a:0.13},{t:"g",s:"1",f:17.94,a:0.13},{t:"f",s:"",f:21.77,a:0.13},{t:"p",s:"1",f:24.62,a:0.13},{t:"p",s:"2",f:29.36,a:0.13},{t:"p",s:"3",f:35.32,a:0.13}];

// ---------- assemble points ----------
function build(tracks, starts, unstable) {
  const pts = [];
  tracks.forEach((vals, k) => vals.forEach((f, j) => {
    const i = (starts ? starts[k] : 0) + j;
    if (f == null || i >= ages.length || f > 40.15) return;
    const u = ((unstable && unstable[k]) || []).some(([a, b]) => i >= a && i <= b);
    pts.push({f, age: ages[i], u});
  }));
  return pts;
}
function tails(tracks, flags) {
  const pts = [];
  tracks.forEach((vals, k) => vals.forEach((f, j) => {
    if (f == null || f > 40.15) return;
    pts.push({f, age: tailAges[j], u: flags[k]});
  }));
  return pts;
}
function rows(rowAges, rowVals) {
  const pts = [];
  rowVals.forEach((vals, r) => vals.forEach(f => pts.push({f, age: rowAges[r], u: false})));
  return pts;
}
const radialPts = build([l0n1,l0n2,l0n3,l0n4,l0n5,l0n6,l0n7,l0n8,l0n9,l0n10,l0n11,l0n12,l0n13,l0n14], radialStart, radialUnstable)
  .concat(tails([l0t1,l0t2,l0t3,l0t4,l0t5,l0t6,l0t7,l0t8,l0t9,l0t10,l0t11,l0t12,l0t13,l0t14], l0tUnstable));
const topModes = build([l1p1,l1p2,l1p3,l1p4,l1p5,l1p6,l1p7,l1p8,l1p9,l1p10,l1p11,l1p12,l1p13,l1g1,l1g2,l1g3,l1g4,l1g5], l1Start, l1Unstable)
  .concat(tails([l1t1,l1t2,l1t3,l1t4,l1t5,l1t6,l1t7,l1t8,l1t9,l1t10,l1t11,l1t12], l1tUnstable));
const topLow = build([l1lo1,l1lo2,l1lo3,l1lo4,l1lo5,l1lo6,l1lo7,l1lo8,l1lo9,l1lo10,l1lo11,l1lo12,l1lo13,l1lo14,l1lo15,l1lo16,l1lo17,l1lo18,l1lo19,l1lo20,l1lo21,l1lo22,l1lo23,l1lo24])
  .concat(rows(bandTopAges, [bandTop1,bandTop2,bandTop3,bandTop4,bandTop5,bandTop6]));
const botModes = build([l2f,l2p1,l2p2,l2p3,l2p4,l2p5,l2p6,l2p7,l2p8,l2p9,l2p10,l2p11,l2p12,l2g1,l2g2,l2g3,l2g4,l2g5,l2g6,l2g7], l2Start, l2Unstable)
  .concat(tails([l2t1,l2t2,l2t3,l2t4,l2t5,l2t6,l2t7,l2t8,l2t9,l2t10,l2t11,l2t12], l2tUnstable));
const botLow = build([l2lo1,l2lo2,l2lo3,l2lo4,l2lo5,l2lo6,l2lo7,l2lo8,l2lo9,l2lo10,l2lo11,l2lo12,l2lo13,l2lo14,l2lo15,l2lo16,l2lo17,l2lo18,l2lo19,l2lo20,l2lo21,l2lo22,l2lo23])
  .concat(rows(bandBotAges, [bandBot1,bandBot2,bandBot3,bandBot4,bandBot5,bandBot6]));

const FONT = "DejaVu Sans";
const ORANGE = "#FFA500", RED = "#FF0000", GREEN = "#00FF00", BLUE = "#0030FF";

function panel(o) {
  const [y0, y1] = o.yDomain;
  const innerH = o.height - o.marginTop - o.marginBottom;
  const ty = px => px * (y1 - y0) / innerH;
  const tx = px => px * 40 / (1084 - 92 - 34);
  const xMinor = d3.range(1, 40).filter(d => d % 10 !== 0);
  const yMinor = d3.range(0, 29).map(i => Math.round(i * 5) / 100).filter(d => Math.round(d * 100) % 20 !== 0);
  const marks = [
    Plot.dot(o.low, {x: "f", y: "age", r: 1.5, fill: o.stable}),
    Plot.dot(o.modes.filter(d => !d.u), {x: "f", y: "age", r: 1.5, fill: o.stable}),
    Plot.dot(radialPts.filter(d => !d.u), {x: "f", y: "age", symbol: "diamond2", r: 4.6, fill: "none", stroke: "black", strokeWidth: 1.4}),
    Plot.dot(radialPts.filter(d => d.u), {x: "f", y: "age", symbol: "diamond2", r: 4.6, fill: "black", stroke: "black", strokeWidth: 1}),
    Plot.dot(o.modes.filter(d => d.u), {x: "f", y: "age", r: 1.5, fill: o.unstable}),
    Plot.frame({stroke: "#111", strokeWidth: 1.5}),
    Plot.ruleX(xMinor, {y1: y0, y2: y0 + ty(5), stroke: "#111"}),
    Plot.ruleX(xMinor, {y1: y1 - ty(5), y2: y1, stroke: "#111"}),
    Plot.ruleX(xTicks, {y1: y0, y2: y0 + ty(10), stroke: "#111", strokeWidth: 1.3}),
    Plot.ruleX(xTicks, {y1: y1 - ty(10), y2: y1, stroke: "#111", strokeWidth: 1.3}),
    Plot.ruleY(yMinor, {x1: 0, x2: tx(9), stroke: "#111"}),
    Plot.ruleY(yMinor, {x1: 40 - tx(9), x2: 40, stroke: "#111"}),
    Plot.ruleY(yTicks, {x1: 0, x2: tx(19), stroke: "#111", strokeWidth: 1.3}),
    Plot.ruleY(yTicks, {x1: 40 - tx(19), x2: 40, stroke: "#111", strokeWidth: 1.3}),
    Plot.text(yTicks, {x: 0, y: d => d, text: (d, i) => yTickLabels[i], textAnchor: "end", dx: -8, dy: o.labelDy, fontSize: 25, fontFamily: FONT, fill: "black"})
  ];
  for (const [labs, color] of o.labels) {
    marks.push(Plot.text(labs, {x: "f", y: "a", text: "t", textAnchor: "start", lineAnchor: "bottom", fontSize: 26, fontFamily: FONT, fill: color}));
    marks.push(Plot.text(labs, {x: "f", y: "a", text: "s", textAnchor: "start", lineAnchor: "bottom", dx: 16.5, dy: 7, fontSize: 16, fontFamily: FONT, fill: color}));
  }
  if (o.xLabels) {
    marks.push(Plot.text(xTicks, {x: d => d, y: y0, text: (d, i) => xTickLabels[i], dy: 28, fontSize: 26, fontFamily: FONT, fill: "black"}));
    marks.push(Plot.text(["Frequency (d"], {x: 20, y: y0, text: d => d, textAnchor: "end", lineAnchor: "bottom", dx: 79, dy: 70, fontSize: 27, fontFamily: FONT, fill: "black"}));
    marks.push(Plot.text(["-1"], {x: 20, y: y0, text: d => d, textAnchor: "start", lineAnchor: "bottom", dx: 80, dy: 58, fontSize: 17, fontFamily: FONT, fill: "black"}));
    marks.push(Plot.text([")"], {x: 20, y: y0, text: d => d, textAnchor: "start", lineAnchor: "bottom", dx: 96, dy: 70, fontSize: 27, fontFamily: FONT, fill: "black"}));
  }
  return Plot.plot({
    width: 1084, height: o.height,
    marginLeft: 92, marginRight: 34, marginTop: o.marginTop, marginBottom: o.marginBottom,
    x: {domain: [0, 40], axis: null},
    y: {domain: [y0, y1], axis: null},
    style: {background: "white", overflow: "visible"},
    marks
  });
}

const wrap = document.getElementById("wrap");
wrap.appendChild(panel({height: 341, marginTop: 1, marginBottom: 1, yDomain: [-0.03, 1.45], labelDy: 0,
  low: topLow, modes: topModes, stable: ORANGE, unstable: RED,
  labels: [[topLabelsBlack, "black"], [topLabelsColor, ORANGE]], xLabels: false}));
wrap.appendChild(panel({height: 424, marginTop: 1, marginBottom: 83, yDomain: [-0.03, 1.47], labelDy: -3,
  low: botLow, modes: botModes, stable: GREEN, unstable: BLUE,
  labels: [[botLabels, GREEN]], xLabels: true}));
</script>
</body></html>
